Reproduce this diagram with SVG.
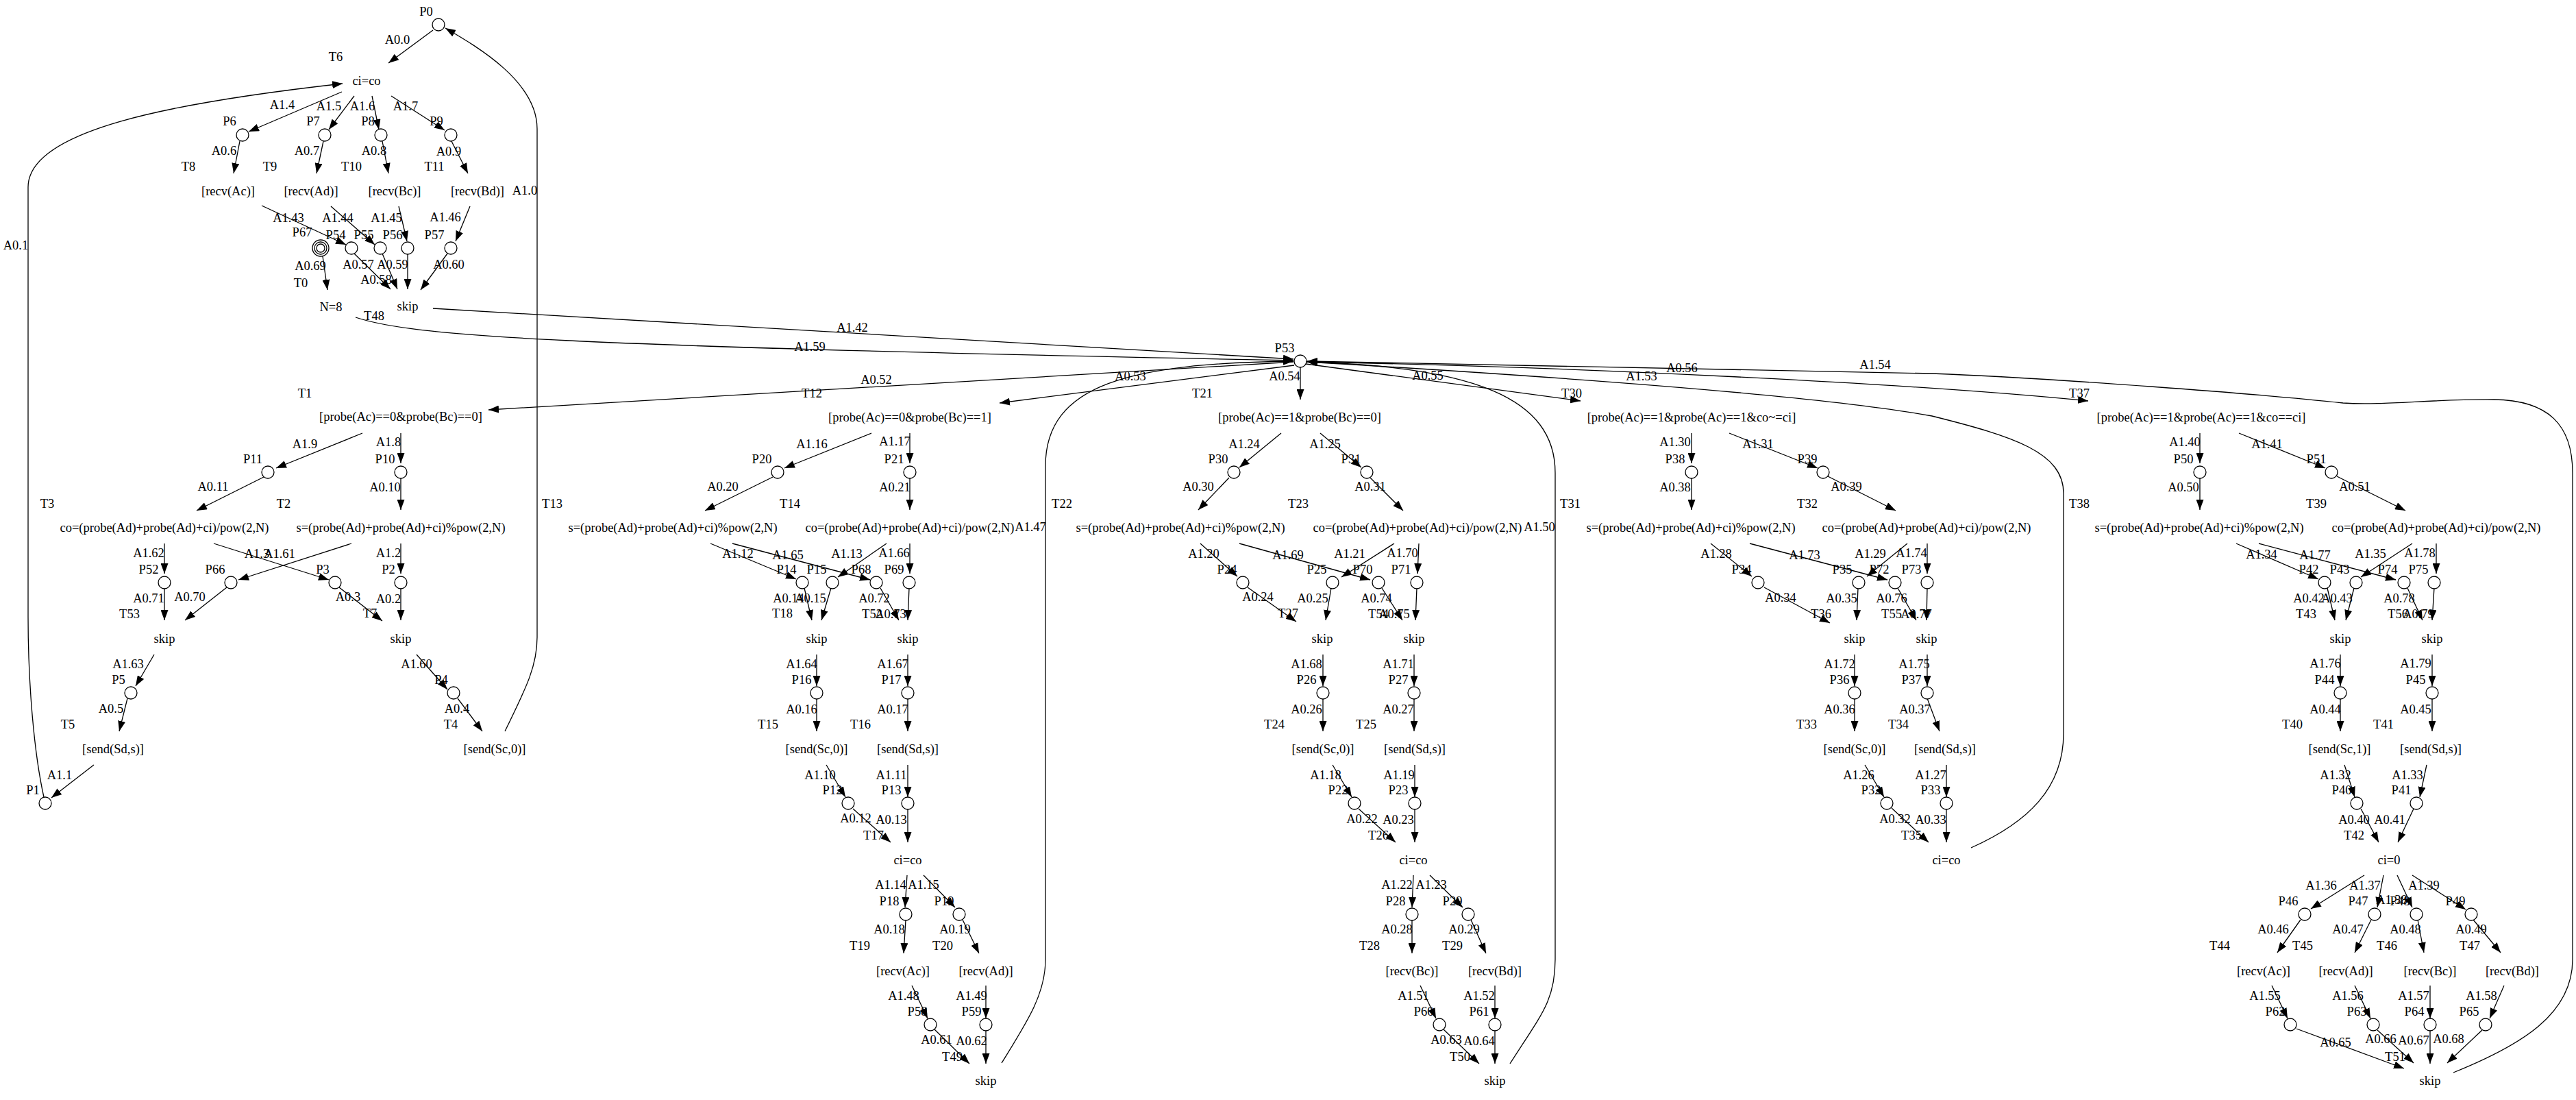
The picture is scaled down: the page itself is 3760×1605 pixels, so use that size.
<svg xmlns="http://www.w3.org/2000/svg" width="3760" height="1605" viewBox="0 0 3760 1605">
<style>
text{font-family:"Liberation Serif","Times New Roman",serif;font-size:18.5px;text-anchor:middle;dominant-baseline:central;fill:#000}
circle{fill:#fff;stroke:#000;stroke-width:1.3}
#edges path{fill:none;stroke:#000;stroke-width:1.3;marker-end:url(#ah)}
</style>
<defs>
<marker id="ah" viewBox="0 0 15 11" refX="15" refY="5.5" markerWidth="15" markerHeight="11" markerUnits="userSpaceOnUse" orient="auto"><path d="M0,0 L15,5.5 L0,11 z" fill="#000"/></marker>
</defs>
<rect width="3760" height="1605" fill="#fff"/>
<g id="edges">
<g id="A0.0"><path d="M632,44 L567,92"/><text x="580" y="58">A0.0</text></g>
<g id="A0.1"><path d="M64,1163 C50,1100 41,1000 41,900 L41,273 C41,190 250,150 500,122"/><text x="23" y="358">A0.1</text></g>
<g id="A1.0"><path d="M737,1067 C770,1000 784,970 784,930 L784,188 C784,120 700,70 650,41"/><text x="766" y="278">A1.0</text></g>
<g id="A1.1"><path d="M137,1116 L75,1164"/><text x="87" y="1131">A1.1</text></g>
<g id="A1.2"><path d="M585,793 L585,837"/><text x="567" y="807">A1.2</text></g>
<g id="A0.2"><path d="M585,858 L585,905"/><text x="567" y="874">A0.2</text></g>
<g id="A1.3"><path d="M312,793 L480,846"/><text x="375" y="808">A1.3</text></g>
<g id="A0.3"><path d="M495,857 L558,906"/><text x="508" y="871">A0.3</text></g>
<g id="A1.4"><path d="M499,134 L363,192"/><text x="412" y="153">A1.4</text></g>
<g id="A1.5"><path d="M517,140 L480,189"/><text x="480" y="155">A1.5</text></g>
<g id="A1.6"><path d="M543,140 L553,189"/><text x="529" y="155">A1.6</text></g>
<g id="A1.7"><path d="M571,140 L649,190"/><text x="592" y="155">A1.7</text></g>
<g id="A0.4"><path d="M668,1019 L704,1067"/><text x="667" y="1034">A0.4</text></g>
<g id="A0.5"><path d="M186,1019 L174,1067"/><text x="162" y="1034">A0.5</text></g>
<g id="A0.6"><path d="M350,206 L341,253"/><text x="327" y="220">A0.6</text></g>
<g id="A0.7"><path d="M472,206 L462,253"/><text x="448" y="220">A0.7</text></g>
<g id="A0.8"><path d="M558,206 L567,253"/><text x="546" y="220">A0.8</text></g>
<g id="A0.9"><path d="M659,206 L683,253"/><text x="655" y="221">A0.9</text></g>
<g id="A1.8"><path d="M585,632 L585,676"/><text x="567" y="645">A1.8</text></g>
<g id="A1.9"><path d="M529,632 L403,683"/><text x="445" y="648">A1.9</text></g>
<g id="A0.10"><path d="M585,698 L585,744"/><text x="562" y="711">A0.10</text></g>
<g id="A0.11"><path d="M385,696 L287,745"/><text x="311" y="710">A0.11</text></g>
<g id="A1.10"><path d="M1206,1116 L1234,1163"/><text x="1197" y="1131">A1.10</text></g>
<g id="A1.11"><path d="M1325,1116 L1325,1163"/><text x="1301" y="1131">A1.11</text></g>
<g id="A0.12"><path d="M1245,1180 L1300,1229"/><text x="1249" y="1194">A0.12</text></g>
<g id="A0.13"><path d="M1325,1181 L1325,1229"/><text x="1301" y="1196">A0.13</text></g>
<g id="A1.12"><path d="M1037,793 L1162,845"/><text x="1077" y="808">A1.12</text></g>
<g id="A1.13"><path d="M1294,793 L1223,842"/><text x="1236" y="808">A1.13</text></g>
<g id="A0.14"><path d="M1174,858 L1185,905"/><text x="1151" y="873">A0.14</text></g>
<g id="A0.15"><path d="M1213,858 L1199,905"/><text x="1183" y="873">A0.15</text></g>
<g id="A1.14"><path d="M1324,1277 L1321,1324"/><text x="1300" y="1291">A1.14</text></g>
<g id="A1.15"><path d="M1348,1277 L1394,1324"/><text x="1348" y="1291">A1.15</text></g>
<g id="A0.16"><path d="M1192,1019 L1192,1067"/><text x="1170" y="1035">A0.16</text></g>
<g id="A0.17"><path d="M1325,1019 L1325,1067"/><text x="1303" y="1035">A0.17</text></g>
<g id="A0.18"><path d="M1322,1342 L1319,1391"/><text x="1298" y="1356">A0.18</text></g>
<g id="A0.19"><path d="M1405,1342 L1429,1391"/><text x="1394" y="1356">A0.19</text></g>
<g id="A1.16"><path d="M1272,632 L1145,683"/><text x="1185" y="648">A1.16</text></g>
<g id="A1.17"><path d="M1328,632 L1328,676"/><text x="1306" y="644">A1.17</text></g>
<g id="A0.20"><path d="M1128,696 L1029,745"/><text x="1055" y="710">A0.20</text></g>
<g id="A0.21"><path d="M1328,698 L1328,744"/><text x="1306" y="711">A0.21</text></g>
<g id="A1.18"><path d="M1945,1116 L1973,1163"/><text x="1935" y="1131">A1.18</text></g>
<g id="A1.19"><path d="M2065,1116 L2065,1163"/><text x="2042" y="1131">A1.19</text></g>
<g id="A1.20"><path d="M1752,793 L1806,841"/><text x="1757" y="808">A1.20</text></g>
<g id="A1.21"><path d="M2035,793 L1958,842"/><text x="1970" y="808">A1.21</text></g>
<g id="A0.22"><path d="M1983,1180 L2037,1229"/><text x="1988" y="1195">A0.22</text></g>
<g id="A0.23"><path d="M2065,1181 L2065,1229"/><text x="2041" y="1196">A0.23</text></g>
<g id="A1.22"><path d="M2063,1277 L2061,1324"/><text x="2039" y="1291">A1.22</text></g>
<g id="A1.23"><path d="M2087,1277 L2135,1324"/><text x="2089" y="1291">A1.23</text></g>
<g id="A0.24"><path d="M1821,857 L1892,907"/><text x="1836" y="871">A0.24</text></g>
<g id="A0.25"><path d="M1943,858 L1935,905"/><text x="1916" y="873">A0.25</text></g>
<g id="A1.24"><path d="M1870,632 L1809,682"/><text x="1816" y="648">A1.24</text></g>
<g id="A1.25"><path d="M1927,632 L1987,682"/><text x="1934" y="648">A1.25</text></g>
<g id="A0.26"><path d="M1931,1019 L1931,1067"/><text x="1907" y="1035">A0.26</text></g>
<g id="A0.27"><path d="M2064,1019 L2064,1067"/><text x="2041" y="1035">A0.27</text></g>
<g id="A0.28"><path d="M2061,1342 L2061,1391"/><text x="2039" y="1356">A0.28</text></g>
<g id="A0.29"><path d="M2147,1342 L2169,1391"/><text x="2137" y="1356">A0.29</text></g>
<g id="A0.30"><path d="M1794,697 L1749,744"/><text x="1749" y="710">A0.30</text></g>
<g id="A0.31"><path d="M2000,697 L2048,745"/><text x="2000" y="710">A0.31</text></g>
<g id="A1.26"><path d="M2722,1116 L2750,1163"/><text x="2713" y="1131">A1.26</text></g>
<g id="A1.27"><path d="M2841,1116 L2841,1163"/><text x="2818" y="1131">A1.27</text></g>
<g id="A1.28"><path d="M2497,793 L2557,841"/><text x="2505" y="808">A1.28</text></g>
<g id="A1.29"><path d="M2784,793 L2725,841"/><text x="2730" y="808">A1.29</text></g>
<g id="A0.32"><path d="M2761,1179 L2815,1229"/><text x="2766" y="1195">A0.32</text></g>
<g id="A0.33"><path d="M2841,1181 L2841,1229"/><text x="2818" y="1196">A0.33</text></g>
<g id="A0.34"><path d="M2575,857 L2671,909"/><text x="2599" y="872">A0.34</text></g>
<g id="A0.35"><path d="M2712,858 L2710,905"/><text x="2688" y="873">A0.35</text></g>
<g id="A1.30"><path d="M2469,632 L2469,676"/><text x="2445" y="645">A1.30</text></g>
<g id="A1.31"><path d="M2524,632 L2653,683"/><text x="2566" y="648">A1.31</text></g>
<g id="A0.36"><path d="M2707,1019 L2707,1067"/><text x="2685" y="1035">A0.36</text></g>
<g id="A0.37"><path d="M2813,1019 L2831,1067"/><text x="2795" y="1035">A0.37</text></g>
<g id="A0.38"><path d="M2469,698 L2469,744"/><text x="2445" y="711">A0.38</text></g>
<g id="A0.39"><path d="M2668,695 L2767,745"/><text x="2695" y="710">A0.39</text></g>
<g id="A1.32"><path d="M3422,1116 L3437,1163"/><text x="3409" y="1131">A1.32</text></g>
<g id="A1.33"><path d="M3542,1116 L3532,1163"/><text x="3514" y="1131">A1.33</text></g>
<g id="A1.34"><path d="M3264,793 L3384,845"/><text x="3301" y="809">A1.34</text></g>
<g id="A1.35"><path d="M3521,793 L3446,842"/><text x="3460" y="808">A1.35</text></g>
<g id="A0.40"><path d="M3446,1180 L3472,1229"/><text x="3436" y="1196">A0.40</text></g>
<g id="A0.41"><path d="M3523,1180 L3500,1229"/><text x="3488" y="1196">A0.41</text></g>
<g id="A0.42"><path d="M3397,858 L3408,905"/><text x="3370" y="873">A0.42</text></g>
<g id="A0.43"><path d="M3436,858 L3424,905"/><text x="3411" y="873">A0.43</text></g>
<g id="A1.36"><path d="M3451,1277 L3373,1326"/><text x="3388" y="1292">A1.36</text></g>
<g id="A1.37"><path d="M3479,1277 L3470,1324"/><text x="3452" y="1292">A1.37</text></g>
<g id="A1.38"><path d="M3499,1277 L3521,1324"/><text x="3491" y="1313">A1.38</text></g>
<g id="A1.39"><path d="M3521,1277 L3599,1327"/><text x="3538" y="1292">A1.39</text></g>
<g id="A0.44"><path d="M3416,1019 L3416,1067"/><text x="3394" y="1035">A0.44</text></g>
<g id="A0.45"><path d="M3550,1019 L3550,1067"/><text x="3526" y="1035">A0.45</text></g>
<g id="A0.46"><path d="M3358,1342 L3324,1390"/><text x="3318" y="1356">A0.46</text></g>
<g id="A0.47"><path d="M3461,1342 L3437,1390"/><text x="3427" y="1356">A0.47</text></g>
<g id="A0.48"><path d="M3529,1342 L3538,1390"/><text x="3511" y="1356">A0.48</text></g>
<g id="A0.49"><path d="M3610,1342 L3650,1390"/><text x="3607" y="1356">A0.49</text></g>
<g id="A1.40"><path d="M3211,632 L3211,676"/><text x="3189" y="645">A1.40</text></g>
<g id="A1.41"><path d="M3268,632 L3394,683"/><text x="3309" y="648">A1.41</text></g>
<g id="A0.50"><path d="M3211,698 L3211,744"/><text x="3187" y="711">A0.50</text></g>
<g id="A0.51"><path d="M3411,695 L3511,745"/><text x="3437" y="710">A0.51</text></g>
<g id="A1.42"><path d="M632,450 L1888,524"/><text x="1244" y="478">A1.42</text></g>
<g id="A1.43"><path d="M382,300 L505,357"/><text x="421" y="318">A1.43</text></g>
<g id="A1.44"><path d="M483,301 L547,357"/><text x="493" y="318">A1.44</text></g>
<g id="A1.45"><path d="M582,301 L594,352"/><text x="564" y="318">A1.45</text></g>
<g id="A1.46"><path d="M686,301 L665,352"/><text x="650" y="317">A1.46</text></g>
<g id="A1.47"><path d="M1462,1551 C1500,1490 1526,1450 1526,1400 L1526,680 C1526,560 1650,530 1888,527"/><text x="1504" y="769">A1.47</text></g>
<g id="A1.48"><path d="M1331,1438 L1354,1486"/><text x="1319" y="1453">A1.48</text></g>
<g id="A1.49"><path d="M1439,1438 L1439,1486"/><text x="1418" y="1453">A1.49</text></g>
<g id="A1.50"><path d="M2204,1552 C2250,1480 2270,1460 2270,1400 L2270,690 C2270,580 2150,535 1907,528"/><text x="2247" y="769">A1.50</text></g>
<g id="A1.51"><path d="M2073,1438 L2096,1486"/><text x="2063" y="1453">A1.51</text></g>
<g id="A1.52"><path d="M2182,1438 L2182,1486"/><text x="2159" y="1453">A1.52</text></g>
<g id="A1.53"><path d="M2877,1237 C2960,1200 3012,1150 3012,1070 L3012,720 C3012,660 2940,637 2820,607 C2700,585 2450,560 1908,528"/><text x="2396" y="549">A1.53</text></g>
<g id="A1.54"><path d="M3581,1565 C3680,1525 3755,1480 3755,1400 L3755,690 C3755,620 3720,584 3640,583 C3550,582 3480,592 3420,588 C3300,575 3000,552 2820,545 L1908,527"/><text x="2737" y="532">A1.54</text></g>
<g id="A1.55"><path d="M3316,1438 L3339,1486"/><text x="3306" y="1453">A1.55</text></g>
<g id="A1.56"><path d="M3437,1438 L3460,1486"/><text x="3427" y="1453">A1.56</text></g>
<g id="A1.57"><path d="M3547,1438 L3547,1486"/><text x="3523" y="1453">A1.57</text></g>
<g id="A1.58"><path d="M3655,1438 L3634,1486"/><text x="3622" y="1453">A1.58</text></g>
<g id="A1.59"><path d="M519,463 C600,490 800,505 1888,526"/><text x="1182" y="506">A1.59</text></g>
<g id="A1.60"><path d="M608,955 L653,1006"/><text x="608" y="969">A1.60</text></g>
<g id="A1.61"><path d="M513,793 L348,846"/><text x="408" y="808">A1.61</text></g>
<g id="A1.62"><path d="M240,793 L240,837"/><text x="217" y="807">A1.62</text></g>
<g id="A1.63"><path d="M225,955 L198,1001"/><text x="187" y="969">A1.63</text></g>
<g id="A1.64"><path d="M1192,955 L1192,1001"/><text x="1170" y="969">A1.64</text></g>
<g id="A1.65"><path d="M1069,793 L1270,846"/><text x="1150" y="810">A1.65</text></g>
<g id="A1.66"><path d="M1328,793 L1328,837"/><text x="1305" y="807">A1.66</text></g>
<g id="A1.67"><path d="M1325,955 L1325,1001"/><text x="1303" y="969">A1.67</text></g>
<g id="A1.68"><path d="M1931,955 L1931,1001"/><text x="1907" y="969">A1.68</text></g>
<g id="A1.69"><path d="M1809,793 L2000,846"/><text x="1880" y="810">A1.69</text></g>
<g id="A1.70"><path d="M2071,793 L2069,837"/><text x="2047" y="807">A1.70</text></g>
<g id="A1.71"><path d="M2064,955 L2064,1001"/><text x="2041" y="969">A1.71</text></g>
<g id="A1.72"><path d="M2707,955 L2707,1001"/><text x="2685" y="969">A1.72</text></g>
<g id="A1.73"><path d="M2554,793 L2755,846"/><text x="2634" y="810">A1.73</text></g>
<g id="A1.74"><path d="M2813,793 L2813,837"/><text x="2790" y="807">A1.74</text></g>
<g id="A1.75"><path d="M2813,955 L2813,1001"/><text x="2794" y="969">A1.75</text></g>
<g id="A1.76"><path d="M3416,955 L3416,1001"/><text x="3394" y="968">A1.76</text></g>
<g id="A1.77"><path d="M3297,793 L3497,846"/><text x="3379" y="810">A1.77</text></g>
<g id="A1.78"><path d="M3556,793 L3556,837"/><text x="3532" y="807">A1.78</text></g>
<g id="A1.79"><path d="M3550,955 L3550,1001"/><text x="3526" y="968">A1.79</text></g>
<g id="A0.52"><path d="M1888,528 L713,598"/><text x="1279" y="554">A0.52</text></g>
<g id="A0.53"><path d="M1889,533 L1459,588"/><text x="1650" y="549">A0.53</text></g>
<g id="A0.54"><path d="M1898,536 L1898,583"/><text x="1875" y="549">A0.54</text></g>
<g id="A0.55"><path d="M1906,531 L2307,585"/><text x="2084" y="548">A0.55</text></g>
<g id="A0.56"><path d="M1906,528 C2300,535 2800,560 3048,585"/><text x="2455" y="537">A0.56</text></g>
<g id="A0.57"><path d="M517,370 L570,422"/><text x="523" y="386">A0.57</text></g>
<g id="A0.58"><path d="M558,370 L580,422"/><text x="549" y="408">A0.58</text></g>
<g id="A0.59"><path d="M595,370 L595,422"/><text x="573" y="386">A0.59</text></g>
<g id="A0.60"><path d="M653,370 L614,423"/><text x="655" y="386">A0.60</text></g>
<g id="A0.61"><path d="M1364,1502 L1415,1552"/><text x="1367" y="1517">A0.61</text></g>
<g id="A0.62"><path d="M1439,1503 L1439,1552"/><text x="1418" y="1519">A0.62</text></g>
<g id="A0.63"><path d="M2107,1502 L2159,1552"/><text x="2111" y="1517">A0.63</text></g>
<g id="A0.64"><path d="M2182,1503 L2182,1552"/><text x="2159" y="1519">A0.64</text></g>
<g id="A0.65"><path d="M3352,1501 L3509,1559"/><text x="3409" y="1521">A0.65</text></g>
<g id="A0.66"><path d="M3470,1503 L3523,1551"/><text x="3475" y="1516">A0.66</text></g>
<g id="A0.67"><path d="M3547,1503 L3547,1552"/><text x="3523" y="1518">A0.67</text></g>
<g id="A0.68"><path d="M3623,1503 L3572,1551"/><text x="3574" y="1516">A0.68</text></g>
<g id="A0.69"><path d="M471,374 L478,423"/><text x="453" y="388">A0.69</text></g>
<g id="A0.70"><path d="M331,857 L270,905"/><text x="277" y="871">A0.70</text></g>
<g id="A0.71"><path d="M240,858 L240,905"/><text x="217" y="873">A0.71</text></g>
<g id="A0.72"><path d="M1285,858 L1312,905"/><text x="1276" y="873">A0.72</text></g>
<g id="A0.73"><path d="M1327,858 L1325,905"/><text x="1300" y="896">A0.73</text></g>
<g id="A0.74"><path d="M2017,858 L2047,905"/><text x="2009" y="873">A0.74</text></g>
<g id="A0.75"><path d="M2068,858 L2066,905"/><text x="2035" y="896">A0.75</text></g>
<g id="A0.76"><path d="M2770,858 L2797,905"/><text x="2761" y="873">A0.76</text></g>
<g id="A0.77"><path d="M2813,858 L2812,905"/><text x="2797" y="896">A0.77</text></g>
<g id="A0.78"><path d="M3514,858 L3536,905"/><text x="3502" y="873">A0.78</text></g>
<g id="A0.79"><path d="M3553,858 L3550,905"/><text x="3530" y="896">A0.79</text></g>
</g>
<g id="places">
<g id="P0"><text x="622" y="17">P0</text><circle cx="640" cy="36" r="9"/></g>
<g id="P1"><text x="48" y="1153">P1</text><circle cx="66" cy="1172" r="9"/></g>
<g id="P2"><text x="567" y="831">P2</text><circle cx="585" cy="850" r="9"/></g>
<g id="P3"><text x="471" y="831">P3</text><circle cx="489" cy="850" r="9"/></g>
<g id="P4"><text x="644" y="992">P4</text><circle cx="662" cy="1011" r="9"/></g>
<g id="P5"><text x="173" y="992">P5</text><circle cx="191" cy="1011" r="9"/></g>
<g id="P6"><text x="335" y="177">P6</text><circle cx="354" cy="197" r="9"/></g>
<g id="P7"><text x="457" y="177">P7</text><circle cx="474" cy="197" r="9"/></g>
<g id="P8"><text x="537" y="177">P8</text><circle cx="556" cy="197" r="9"/></g>
<g id="P9"><text x="637" y="177">P9</text><circle cx="658" cy="197" r="9"/></g>
<g id="P10"><text x="562" y="670">P10</text><circle cx="585" cy="689" r="9"/></g>
<g id="P11"><text x="369" y="670">P11</text><circle cx="391" cy="689" r="9"/></g>
<g id="P12"><text x="1215" y="1153">P12</text><circle cx="1238" cy="1172" r="9"/></g>
<g id="P13"><text x="1301" y="1153">P13</text><circle cx="1325" cy="1172" r="9"/></g>
<g id="P14"><text x="1148" y="831">P14</text><circle cx="1171" cy="850" r="9"/></g>
<g id="P15"><text x="1192" y="831">P15</text><circle cx="1215" cy="850" r="9"/></g>
<g id="P16"><text x="1170" y="992">P16</text><circle cx="1192" cy="1011" r="9"/></g>
<g id="P17"><text x="1301" y="992">P17</text><circle cx="1325" cy="1011" r="9"/></g>
<g id="P18"><text x="1298" y="1315">P18</text><circle cx="1322" cy="1334" r="9"/></g>
<g id="P19"><text x="1378" y="1315">P19</text><circle cx="1400" cy="1334" r="9"/></g>
<g id="P20"><text x="1112" y="670">P20</text><circle cx="1135" cy="689" r="9"/></g>
<g id="P21"><text x="1305" y="670">P21</text><circle cx="1328" cy="689" r="9"/></g>
<g id="P22"><text x="1953" y="1153">P22</text><circle cx="1977" cy="1172" r="9"/></g>
<g id="P23"><text x="2041" y="1153">P23</text><circle cx="2065" cy="1172" r="9"/></g>
<g id="P24"><text x="1791" y="831">P24</text><circle cx="1814" cy="850" r="9"/></g>
<g id="P25"><text x="1922" y="831">P25</text><circle cx="1945" cy="850" r="9"/></g>
<g id="P26"><text x="1907" y="992">P26</text><circle cx="1931" cy="1011" r="9"/></g>
<g id="P27"><text x="2041" y="992">P27</text><circle cx="2064" cy="1011" r="9"/></g>
<g id="P28"><text x="2037" y="1315">P28</text><circle cx="2061" cy="1334" r="9"/></g>
<g id="P29"><text x="2120" y="1315">P29</text><circle cx="2143" cy="1334" r="9"/></g>
<g id="P30"><text x="1778" y="670">P30</text><circle cx="1801" cy="689" r="9"/></g>
<g id="P31"><text x="1972" y="670">P31</text><circle cx="1995" cy="689" r="9"/></g>
<g id="P32"><text x="2731" y="1153">P32</text><circle cx="2754" cy="1172" r="9"/></g>
<g id="P33"><text x="2818" y="1153">P33</text><circle cx="2841" cy="1172" r="9"/></g>
<g id="P34"><text x="2542" y="831">P34</text><circle cx="2566" cy="850" r="9"/></g>
<g id="P35"><text x="2689" y="831">P35</text><circle cx="2713" cy="850" r="9"/></g>
<g id="P36"><text x="2685" y="992">P36</text><circle cx="2707" cy="1011" r="9"/></g>
<g id="P37"><text x="2790" y="992">P37</text><circle cx="2813" cy="1011" r="9"/></g>
<g id="P38"><text x="2445" y="670">P38</text><circle cx="2469" cy="689" r="9"/></g>
<g id="P39"><text x="2638" y="670">P39</text><circle cx="2661" cy="689" r="9"/></g>
<g id="P40"><text x="3418" y="1153">P40</text><circle cx="3440" cy="1172" r="9"/></g>
<g id="P41"><text x="3505" y="1153">P41</text><circle cx="3527" cy="1172" r="9"/></g>
<g id="P42"><text x="3370" y="831">P42</text><circle cx="3393" cy="850" r="9"/></g>
<g id="P43"><text x="3415" y="831">P43</text><circle cx="3439" cy="850" r="9"/></g>
<g id="P44"><text x="3393" y="992">P44</text><circle cx="3416" cy="1011" r="9"/></g>
<g id="P45"><text x="3526" y="992">P45</text><circle cx="3550" cy="1011" r="9"/></g>
<g id="P46"><text x="3340" y="1315">P46</text><circle cx="3364" cy="1334" r="9"/></g>
<g id="P47"><text x="3442" y="1315">P47</text><circle cx="3466" cy="1334" r="9"/></g>
<g id="P48"><text x="3503" y="1315">P48</text><circle cx="3527" cy="1334" r="9"/></g>
<g id="P49"><text x="3584" y="1315">P49</text><circle cx="3607" cy="1334" r="9"/></g>
<g id="P50"><text x="3187" y="670">P50</text><circle cx="3211" cy="689" r="9"/></g>
<g id="P51"><text x="3381" y="670">P51</text><circle cx="3403" cy="689" r="9"/></g>
<g id="P52"><text x="217" y="831">P52</text><circle cx="240" cy="850" r="9"/></g>
<g id="P53"><text x="1875" y="508">P53</text><circle cx="1898" cy="527" r="9"/></g>
<g id="P54"><text x="490" y="343">P54</text><circle cx="513" cy="362" r="9"/></g>
<g id="P55"><text x="531" y="343">P55</text><circle cx="555" cy="362" r="9"/></g>
<g id="P56"><text x="573" y="343">P56</text><circle cx="595" cy="362" r="9"/></g>
<g id="P57"><text x="634" y="343">P57</text><circle cx="658" cy="362" r="9"/></g>
<g id="P58"><text x="1339" y="1476">P58</text><circle cx="1358" cy="1495" r="9"/></g>
<g id="P59"><text x="1418" y="1476">P59</text><circle cx="1439" cy="1495" r="9"/></g>
<g id="P60"><text x="2078" y="1476">P60</text><circle cx="2101" cy="1495" r="9"/></g>
<g id="P61"><text x="2159" y="1476">P61</text><circle cx="2182" cy="1495" r="9"/></g>
<g id="P62"><text x="3321" y="1476">P62</text><circle cx="3343" cy="1495" r="9"/></g>
<g id="P63"><text x="3440" y="1476">P63</text><circle cx="3464" cy="1495" r="9"/></g>
<g id="P64"><text x="3524" y="1476">P64</text><circle cx="3547" cy="1495" r="9"/></g>
<g id="P65"><text x="3604" y="1476">P65</text><circle cx="3628" cy="1495" r="9"/></g>
<g id="P66"><text x="314" y="831">P66</text><circle cx="337" cy="850" r="9"/></g>
<g id="P67"><text x="441" y="339">P67</text><circle cx="468" cy="362" r="12"/><circle cx="468" cy="362" r="9"/><circle cx="468" cy="362" r="6" fill="#000"/></g>
<g id="P68"><text x="1257" y="831">P68</text><circle cx="1279" cy="850" r="9"/></g>
<g id="P69"><text x="1305" y="831">P69</text><circle cx="1327" cy="850" r="9"/></g>
<g id="P70"><text x="1989" y="831">P70</text><circle cx="2012" cy="850" r="9"/></g>
<g id="P71"><text x="2045" y="831">P71</text><circle cx="2068" cy="850" r="9"/></g>
<g id="P72"><text x="2743" y="831">P72</text><circle cx="2766" cy="850" r="9"/></g>
<g id="P73"><text x="2790" y="831">P73</text><circle cx="2813" cy="850" r="9"/></g>
<g id="P74"><text x="3485" y="831">P74</text><circle cx="3509" cy="850" r="9"/></g>
<g id="P75"><text x="3530" y="831">P75</text><circle cx="3553" cy="850" r="9"/></g>
</g>
<g id="transitions">
<g id="T0"><text x="439" y="413">T0</text><text x="483" y="448">N=8</text></g>
<g id="T48"><text x="546" y="461">T48</text><text x="595" y="447">skip</text></g>
<g id="T6"><text x="490" y="83">T6</text><text x="535" y="118">ci=co</text></g>
<g id="T8"><text x="275" y="243">T8</text><text x="333" y="279">[recv(Ac)]</text></g>
<g id="T9"><text x="394" y="243">T9</text><text x="454" y="279">[recv(Ad)]</text></g>
<g id="T10"><text x="513" y="243">T10</text><text x="576" y="279">[recv(Bc)]</text></g>
<g id="T11"><text x="634" y="243">T11</text><text x="697" y="279">[recv(Bd)]</text></g>
<g id="T1"><text x="445" y="574">T1</text><text x="585" y="608">[probe(Ac)==0&amp;probe(Bc)==0]</text></g>
<g id="T3"><text x="69" y="735">T3</text><text x="240" y="770">co=(probe(Ad)+probe(Ad)+ci)/pow(2,N)</text></g>
<g id="T2"><text x="414" y="735">T2</text><text x="585" y="770">s=(probe(Ad)+probe(Ad)+ci)%pow(2,N)</text></g>
<g id="T53"><text x="189" y="896">T53</text><text x="240" y="932">skip</text></g>
<g id="T7"><text x="540" y="895">T7</text><text x="585" y="932">skip</text></g>
<g id="T5"><text x="99" y="1057">T5</text><text x="165" y="1093">[send(Sd,s)]</text></g>
<g id="T4"><text x="658" y="1057">T4</text><text x="722" y="1093">[send(Sc,0)]</text></g>
<g id="T12"><text x="1185" y="574">T12</text><text x="1328" y="609">[probe(Ac)==0&amp;probe(Bc)==1]</text></g>
<g id="T13"><text x="806" y="735">T13</text><text x="982" y="770">s=(probe(Ad)+probe(Ad)+ci)%pow(2,N)</text></g>
<g id="T14"><text x="1153" y="735">T14</text><text x="1328" y="770">co=(probe(Ad)+probe(Ad)+ci)/pow(2,N)</text></g>
<g id="T18"><text x="1142" y="895">T18</text><text x="1192" y="932">skip</text></g>
<g id="T52"><text x="1273" y="896">T52</text><text x="1325" y="932">skip</text></g>
<g id="T15"><text x="1121" y="1057">T15</text><text x="1192" y="1093">[send(Sc,0)]</text></g>
<g id="T16"><text x="1256" y="1057">T16</text><text x="1325" y="1093">[send(Sd,s)]</text></g>
<g id="T17"><text x="1275" y="1219">T17</text><text x="1325" y="1255">ci=co</text></g>
<g id="T19"><text x="1255" y="1380">T19</text><text x="1318" y="1417">[recv(Ac)]</text></g>
<g id="T20"><text x="1376" y="1380">T20</text><text x="1439" y="1417">[recv(Ad)]</text></g>
<g id="T49"><text x="1390" y="1542">T49</text><text x="1439" y="1577">skip</text></g>
<g id="T21"><text x="1755" y="574">T21</text><text x="1897" y="609">[probe(Ac)==1&amp;probe(Bc)==0]</text></g>
<g id="T22"><text x="1550" y="735">T22</text><text x="1723" y="770">s=(probe(Ad)+probe(Ad)+ci)%pow(2,N)</text></g>
<g id="T23"><text x="1895" y="735">T23</text><text x="2069" y="770">co=(probe(Ad)+probe(Ad)+ci)/pow(2,N)</text></g>
<g id="T27"><text x="1880" y="895">T27</text><text x="1930" y="932">skip</text></g>
<g id="T54"><text x="2012" y="896">T54</text><text x="2064" y="932">skip</text></g>
<g id="T24"><text x="1860" y="1057">T24</text><text x="1931" y="1093">[send(Sc,0)]</text></g>
<g id="T25"><text x="1994" y="1057">T25</text><text x="2065" y="1093">[send(Sd,s)]</text></g>
<g id="T26"><text x="2012" y="1219">T26</text><text x="2063" y="1255">ci=co</text></g>
<g id="T28"><text x="1999" y="1380">T28</text><text x="2061" y="1417">[recv(Bc)]</text></g>
<g id="T29"><text x="2120" y="1380">T29</text><text x="2182" y="1417">[recv(Bd)]</text></g>
<g id="T50"><text x="2131" y="1542">T50</text><text x="2182" y="1577">skip</text></g>
<g id="T30"><text x="2294" y="574">T30</text><text x="2469" y="609">[probe(Ac)==1&amp;probe(Ac)==1&amp;co~=ci]</text></g>
<g id="T31"><text x="2292" y="735">T31</text><text x="2468" y="770">s=(probe(Ad)+probe(Ad)+ci)%pow(2,N)</text></g>
<g id="T32"><text x="2638" y="735">T32</text><text x="2812" y="770">co=(probe(Ad)+probe(Ad)+ci)/pow(2,N)</text></g>
<g id="T36"><text x="2658" y="896">T36</text><text x="2707" y="932">skip</text></g>
<g id="T55"><text x="2761" y="896">T55</text><text x="2812" y="932">skip</text></g>
<g id="T33"><text x="2637" y="1057">T33</text><text x="2707" y="1093">[send(Sc,0)]</text></g>
<g id="T34"><text x="2771" y="1057">T34</text><text x="2839" y="1093">[send(Sd,s)]</text></g>
<g id="T35"><text x="2790" y="1219">T35</text><text x="2841" y="1255">ci=co</text></g>
<g id="T37"><text x="3035" y="574">T37</text><text x="3213" y="609">[probe(Ac)==1&amp;probe(Ac)==1&amp;co==ci]</text></g>
<g id="T38"><text x="3035" y="735">T38</text><text x="3210" y="770">s=(probe(Ad)+probe(Ad)+ci)%pow(2,N)</text></g>
<g id="T39"><text x="3381" y="735">T39</text><text x="3556" y="770">co=(probe(Ad)+probe(Ad)+ci)/pow(2,N)</text></g>
<g id="T43"><text x="3366" y="896">T43</text><text x="3416" y="932">skip</text></g>
<g id="T56"><text x="3500" y="896">T56</text><text x="3550" y="932">skip</text></g>
<g id="T40"><text x="3346" y="1057">T40</text><text x="3415" y="1093">[send(Sc,1)]</text></g>
<g id="T41"><text x="3479" y="1057">T41</text><text x="3548" y="1093">[send(Sd,s)]</text></g>
<g id="T42"><text x="3436" y="1219">T42</text><text x="3487" y="1255">ci=0</text></g>
<g id="T44"><text x="3240" y="1380">T44</text><text x="3304" y="1417">[recv(Ac)]</text></g>
<g id="T45"><text x="3361" y="1380">T45</text><text x="3424" y="1417">[recv(Ad)]</text></g>
<g id="T46"><text x="3484" y="1380">T46</text><text x="3547" y="1417">[recv(Bc)]</text></g>
<g id="T47"><text x="3605" y="1380">T47</text><text x="3667" y="1417">[recv(Bd)]</text></g>
<g id="T51"><text x="3496" y="1542">T51</text><text x="3547" y="1577">skip</text></g>
</g>
</svg>
